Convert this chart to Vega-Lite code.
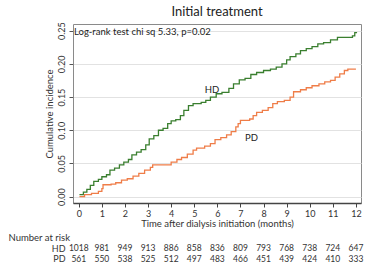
{
  "$schema": "https://vega.github.io/schema/vega-lite/v6.json",
  "padding": {"left": 8, "top": 5, "right": 2, "bottom": 0},
  "background": "white",
  "config": {"font": "Lato", "view": {"stroke": null}, "concat": {"spacing": 4}, "axis": {"labelOverlap": false}},
  "datasets": {
    "curves": [
      {"grp": "HD", "month": 0.03, "inc": 0.003},
      {"grp": "HD", "month": 0.2, "inc": 0.007},
      {"grp": "HD", "month": 0.35, "inc": 0.011},
      {"grp": "HD", "month": 0.5, "inc": 0.017},
      {"grp": "HD", "month": 0.65, "inc": 0.023},
      {"grp": "HD", "month": 0.85, "inc": 0.026},
      {"grp": "HD", "month": 1.0, "inc": 0.030},
      {"grp": "HD", "month": 1.2, "inc": 0.033},
      {"grp": "HD", "month": 1.35, "inc": 0.040},
      {"grp": "HD", "month": 1.55, "inc": 0.043},
      {"grp": "HD", "month": 1.76, "inc": 0.048},
      {"grp": "HD", "month": 1.95, "inc": 0.052},
      {"grp": "HD", "month": 2.15, "inc": 0.056},
      {"grp": "HD", "month": 2.3, "inc": 0.063},
      {"grp": "HD", "month": 2.5, "inc": 0.067},
      {"grp": "HD", "month": 2.7, "inc": 0.071},
      {"grp": "HD", "month": 2.9, "inc": 0.078},
      {"grp": "HD", "month": 3.05, "inc": 0.087},
      {"grp": "HD", "month": 3.25, "inc": 0.092},
      {"grp": "HD", "month": 3.45, "inc": 0.100},
      {"grp": "HD", "month": 3.65, "inc": 0.103},
      {"grp": "HD", "month": 3.85, "inc": 0.110},
      {"grp": "HD", "month": 4.0, "inc": 0.114},
      {"grp": "HD", "month": 4.2, "inc": 0.116},
      {"grp": "HD", "month": 4.4, "inc": 0.122},
      {"grp": "HD", "month": 4.55, "inc": 0.130},
      {"grp": "HD", "month": 4.75, "inc": 0.137},
      {"grp": "HD", "month": 4.95, "inc": 0.140},
      {"grp": "HD", "month": 5.3, "inc": 0.142},
      {"grp": "HD", "month": 5.5, "inc": 0.145},
      {"grp": "HD", "month": 5.7, "inc": 0.150},
      {"grp": "HD", "month": 5.95, "inc": 0.155},
      {"grp": "HD", "month": 6.2, "inc": 0.157},
      {"grp": "HD", "month": 6.5, "inc": 0.163},
      {"grp": "HD", "month": 6.7, "inc": 0.170},
      {"grp": "HD", "month": 6.95, "inc": 0.176},
      {"grp": "HD", "month": 7.2, "inc": 0.178},
      {"grp": "HD", "month": 7.45, "inc": 0.184},
      {"grp": "HD", "month": 7.7, "inc": 0.187},
      {"grp": "HD", "month": 8.0, "inc": 0.190},
      {"grp": "HD", "month": 8.3, "inc": 0.192},
      {"grp": "HD", "month": 8.55, "inc": 0.195},
      {"grp": "HD", "month": 8.8, "inc": 0.200},
      {"grp": "HD", "month": 9.0, "inc": 0.206},
      {"grp": "HD", "month": 9.15, "inc": 0.211},
      {"grp": "HD", "month": 9.4, "inc": 0.215},
      {"grp": "HD", "month": 9.6, "inc": 0.220},
      {"grp": "HD", "month": 9.85, "inc": 0.223},
      {"grp": "HD", "month": 10.1, "inc": 0.226},
      {"grp": "HD", "month": 10.35, "inc": 0.230},
      {"grp": "HD", "month": 10.6, "inc": 0.232},
      {"grp": "HD", "month": 10.9, "inc": 0.236},
      {"grp": "HD", "month": 11.2, "inc": 0.240},
      {"grp": "HD", "month": 11.85, "inc": 0.242},
      {"grp": "HD", "month": 11.95, "inc": 0.247},
      {"grp": "HD", "month": 12.05, "inc": 0.247},
      {"grp": "PD", "month": 0.03, "inc": 0.0},
      {"grp": "PD", "month": 0.25, "inc": 0.003},
      {"grp": "PD", "month": 0.55, "inc": 0.005},
      {"grp": "PD", "month": 0.85, "inc": 0.008},
      {"grp": "PD", "month": 1.0, "inc": 0.012},
      {"grp": "PD", "month": 1.05, "inc": 0.018},
      {"grp": "PD", "month": 1.4, "inc": 0.019},
      {"grp": "PD", "month": 1.6, "inc": 0.021},
      {"grp": "PD", "month": 1.85, "inc": 0.025},
      {"grp": "PD", "month": 2.1, "inc": 0.027},
      {"grp": "PD", "month": 2.35, "inc": 0.031},
      {"grp": "PD", "month": 2.6, "inc": 0.035},
      {"grp": "PD", "month": 2.85, "inc": 0.040},
      {"grp": "PD", "month": 3.1, "inc": 0.044},
      {"grp": "PD", "month": 3.2, "inc": 0.048},
      {"grp": "PD", "month": 3.8, "inc": 0.048},
      {"grp": "PD", "month": 4.0, "inc": 0.052},
      {"grp": "PD", "month": 4.25, "inc": 0.056},
      {"grp": "PD", "month": 4.45, "inc": 0.059},
      {"grp": "PD", "month": 4.7, "inc": 0.064},
      {"grp": "PD", "month": 4.95, "inc": 0.070},
      {"grp": "PD", "month": 5.1, "inc": 0.073},
      {"grp": "PD", "month": 5.45, "inc": 0.076},
      {"grp": "PD", "month": 5.7, "inc": 0.080},
      {"grp": "PD", "month": 5.9, "inc": 0.086},
      {"grp": "PD", "month": 6.15, "inc": 0.089},
      {"grp": "PD", "month": 6.4, "inc": 0.093},
      {"grp": "PD", "month": 6.6, "inc": 0.098},
      {"grp": "PD", "month": 6.8, "inc": 0.105},
      {"grp": "PD", "month": 6.9, "inc": 0.110},
      {"grp": "PD", "month": 7.0, "inc": 0.115},
      {"grp": "PD", "month": 7.4, "inc": 0.117},
      {"grp": "PD", "month": 7.55, "inc": 0.122},
      {"grp": "PD", "month": 7.7, "inc": 0.127},
      {"grp": "PD", "month": 7.95, "inc": 0.130},
      {"grp": "PD", "month": 8.2, "inc": 0.134},
      {"grp": "PD", "month": 8.4, "inc": 0.140},
      {"grp": "PD", "month": 8.6, "inc": 0.143},
      {"grp": "PD", "month": 8.9, "inc": 0.145},
      {"grp": "PD", "month": 9.15, "inc": 0.150},
      {"grp": "PD", "month": 9.3, "inc": 0.158},
      {"grp": "PD", "month": 9.6, "inc": 0.161},
      {"grp": "PD", "month": 9.85, "inc": 0.164},
      {"grp": "PD", "month": 10.1, "inc": 0.167},
      {"grp": "PD", "month": 10.4, "inc": 0.170},
      {"grp": "PD", "month": 10.65, "inc": 0.173},
      {"grp": "PD", "month": 10.9, "inc": 0.175},
      {"grp": "PD", "month": 11.1, "inc": 0.180},
      {"grp": "PD", "month": 11.3, "inc": 0.185},
      {"grp": "PD", "month": 11.5, "inc": 0.190},
      {"grp": "PD", "month": 11.65, "inc": 0.192},
      {"grp": "PD", "month": 12.0, "inc": 0.192}
    ],
    "notes": [
      {"label": "HD", "month": 5.77, "inc": 0.161},
      {"label": "PD", "month": 7.48, "inc": 0.089}
    ],
    "stat": [
      {"label": "Log-rank test chi sq 5.33, p=0.02", "month": -0.25, "inc": 0.248}
    ],
    "risk": [
      {"grp": "HD", "month": 0, "n": 1018}, {"grp": "HD", "month": 1, "n": 981},
      {"grp": "HD", "month": 2, "n": 949}, {"grp": "HD", "month": 3, "n": 913},
      {"grp": "HD", "month": 4, "n": 886}, {"grp": "HD", "month": 5, "n": 858},
      {"grp": "HD", "month": 6, "n": 836}, {"grp": "HD", "month": 7, "n": 809},
      {"grp": "HD", "month": 8, "n": 793}, {"grp": "HD", "month": 9, "n": 768},
      {"grp": "HD", "month": 10, "n": 738}, {"grp": "HD", "month": 11, "n": 724},
      {"grp": "HD", "month": 12, "n": 647},
      {"grp": "PD", "month": 0, "n": 561}, {"grp": "PD", "month": 1, "n": 550},
      {"grp": "PD", "month": 2, "n": 538}, {"grp": "PD", "month": 3, "n": 525},
      {"grp": "PD", "month": 4, "n": 512}, {"grp": "PD", "month": 5, "n": 497},
      {"grp": "PD", "month": 6, "n": 483}, {"grp": "PD", "month": 7, "n": 466},
      {"grp": "PD", "month": 8, "n": 451}, {"grp": "PD", "month": 9, "n": 439},
      {"grp": "PD", "month": 10, "n": 424}, {"grp": "PD", "month": 11, "n": 410},
      {"grp": "PD", "month": 12, "n": 333}
    ]
  },
  "vconcat": [
    {
      "title": {"text": "Initial treatment", "fontSize": 13, "fontWeight": "normal", "color": "#222", "offset": 3},
      "width": 288,
      "height": 179,
      "view": {"stroke": "#8a8a8a", "strokeWidth": 1},
      "encoding": {
        "x": {
          "field": "month", "type": "quantitative",
          "scale": {"domain": [-0.25, 12.22], "nice": false, "zero": false},
          "axis": {
            "values": [0, 1, 2, 3, 4, 5, 6, 7, 8, 9, 10, 11, 12], "format": "d", "grid": false,
            "labelOverlap": false,
            "domainColor": "#444", "domainWidth": 1.5, "tickColor": "#444", "tickSize": 4,
            "labelFontSize": 9, "labelPadding": 2, "labelColor": "#333",
            "title": "Time after dialysis initiation (months)", "titleFontSize": 9.5,
            "titleFontWeight": "normal", "titlePadding": 0, "titleColor": "#333"
          }
        },
        "y": {
          "field": "inc", "type": "quantitative",
          "scale": {"domain": [-0.0095, 0.26], "nice": false, "zero": false},
          "axis": {
            "values": [0, 0.05, 0.1, 0.15, 0.2, 0.25], "format": ".2f", "grid": true,
            "labelOverlap": false,
            "gridColor": "#e2e2e2", "domain": false, "tickColor": "#555", "tickSize": 4,
            "labelAngle": -90, "labelAlign": "center", "labelBaseline": "bottom",
            "labelFontSize": 9, "labelPadding": 3, "labelColor": "#333",
            "title": "Cumulative incidence", "titleFontSize": 9.5, "titleFontWeight": "normal",
            "titlePadding": 3, "titleColor": "#333"
          }
        }
      },
      "layer": [
        {
          "data": {"name": "curves"},
          "mark": {"type": "line", "interpolate": "step-after", "strokeWidth": 1.3},
          "encoding": {
            "color": {
              "field": "grp", "type": "nominal",
              "scale": {"domain": ["HD", "PD"], "range": ["#3a7f2f", "#ef7d48"]},
              "legend": null
            }
          }
        },
        {
          "data": {"name": "notes"},
          "mark": {"type": "text", "fontSize": 9.5, "align": "center", "baseline": "middle", "color": "#222"},
          "encoding": {
            "text": {"field": "label"}
          }
        },
        {
          "data": {"name": "stat"},
          "mark": {"type": "text", "fontSize": 9.5, "align": "left", "baseline": "middle", "dx": 1, "color": "#222"},
          "encoding": {
            "text": {"field": "label"}
          }
        }
      ]
    },
    {
      "width": 288,
      "height": 21,
      "view": {"stroke": null},
      "data": {"name": "risk"},
      "mark": {"type": "text", "fontSize": 8.5, "align": "center", "baseline": "middle", "color": "#333"},
      "encoding": {
        "x": {"field": "month", "type": "quantitative", "scale": {"domain": [-0.25, 12.22], "nice": false, "zero": false}, "axis": null},
        "y": {
          "field": "grp", "type": "nominal", "sort": ["HD", "PD"],
          "scale": {"paddingInner": 0, "paddingOuter": 0},
          "axis": {
            "domain": false, "ticks": false, "labelPadding": 8, "labelFontSize": 9, "labelColor": "#333",
            "title": "Number at risk", "titleAngle": 0, "titleAlign": "left", "titleBaseline": "middle",
            "titleX": -65, "titleY": -6, "titleFontSize": 9.5, "titleFontWeight": "normal", "titleColor": "#333"
          }
        },
        "text": {"field": "n"}
      }
    }
  ]
}
